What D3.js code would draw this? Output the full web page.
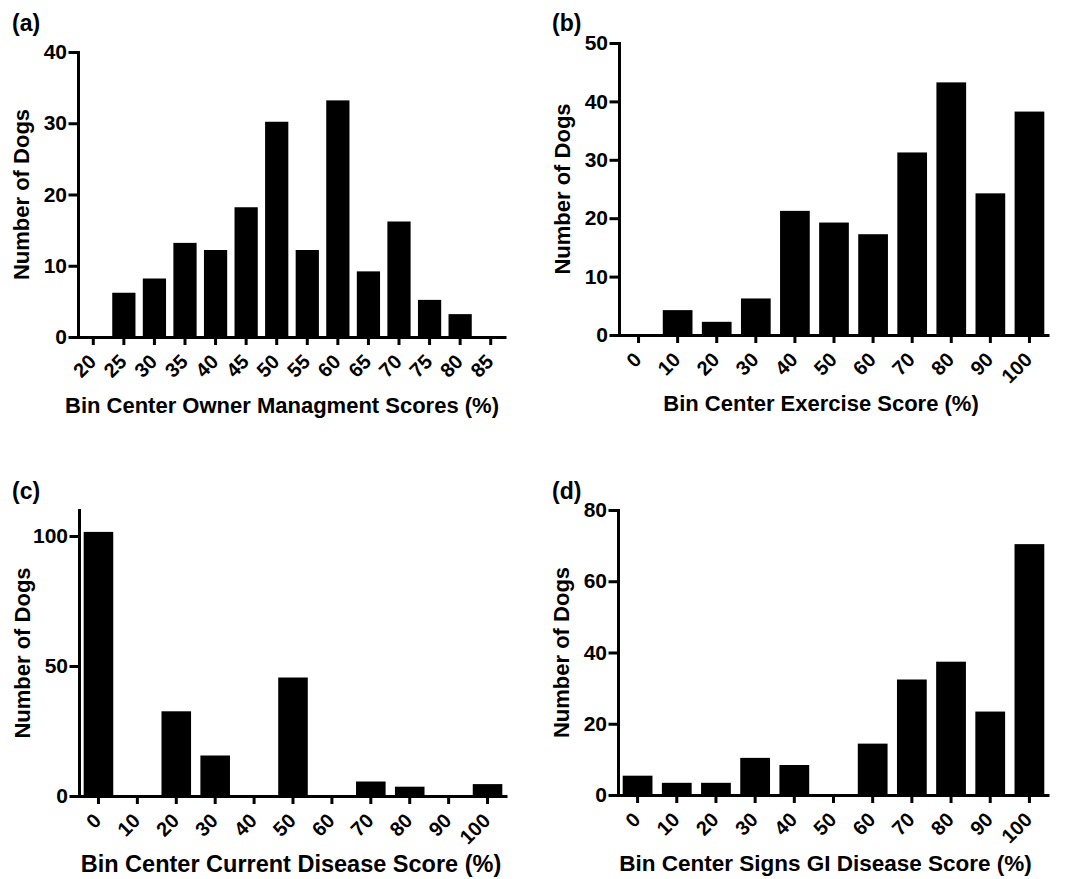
<!DOCTYPE html>
<html>
<head>
<meta charset="utf-8">
<script src="https://cdn.jsdelivr.net/npm/d3@7"></script>
<style>
  body { margin: 0; background: #fff; }
  svg text { font-family: "Liberation Sans", Arial, sans-serif; font-weight: bold; fill: #000; }
</style>
</head>
<body>
<div id="chart"></div>
<script>
// bin labels and dog counts
var mgmtBins = ["20","25","30","35","40","45","50","55","60","65","70","75","80","85"];
var mgmtCounts = [0,6,8,13,12,18,30,12,33,9,16,5,3,0];

var scoreBins = ["0","10","20","30","40","50","60","70","80","90","100"];
var exerciseCounts = [0,4,2,6,21,19,17,31,43,24,38];
var currentDiseaseCounts = [101,0,32,15,0,45,0,5,3,0,4];
var giDiseaseCounts = [5,3,3,10,8,0,14,32,37,23,70];

var mgmtTicks = [0,10,20,30,40];
var exerciseTicks = [0,10,20,30,40,50];
var currentTicks = [0,50,100];
var giTicks = [0,20,40,60,80];

var svg = d3.select("#chart").append("svg")
  .attr("width", 1073)
  .attr("height", 879);

function drawPanel(p) {
  var g = svg.append("g");

  var x = d3.scaleBand()
    .domain(p.bins)
    .range([p.left, p.right])
    .paddingInner(0.24)
    .paddingOuter(0.12);

  var y = d3.scaleLinear()
    .domain([0, p.ymax])
    .range([p.bottom, p.top]);

  var rows = p.bins.map(function(b, i){ return {bin: b, count: p.counts[i]}; });

  g.selectAll("rect.bar")
    .data(rows.filter(function(d){ return d.count > 0; }))
    .enter().append("rect")
    .attr("class", "bar")
    .attr("x", function(d){ return x(d.bin) + 1.5; })
    .attr("width", x.bandwidth() - 3)
    .attr("y", function(d){ return y(d.count); })
    .attr("height", function(d){ return p.bottom - y(d.count); })
    .attr("fill", "#000")
    .attr("stroke", "#000")
    .attr("stroke-width", 3);

  var yAxis = g.append("g")
    .attr("transform", "translate(" + p.left + ",0)")
    .call(d3.axisLeft(y).tickValues(p.ticks).tickSize(8).tickSizeOuter(0).tickPadding(3));
  yAxis.selectAll("path, line").attr("stroke", "#000").attr("stroke-width", 3).attr("stroke-linecap", "square");
  yAxis.selectAll("text").style("font-size", "21px");

  var xAxis = g.append("g")
    .attr("transform", "translate(0," + p.bottom + ")")
    .call(d3.axisBottom(x).tickSize(8).tickSizeOuter(0));
  xAxis.select(".domain").attr("stroke", "#000").attr("stroke-width", 3);
  xAxis.selectAll("line").attr("stroke", "#000").attr("stroke-width", 3);
  xAxis.selectAll("text")
    .attr("x", 0).attr("y", 0).attr("dy", 0)
    .attr("transform", "translate(4,26) rotate(-45)")
    .style("text-anchor", "end")
    .style("font-size", "20px");

  g.append("text")
    .attr("x", (p.left + p.right) / 2 + p.titleShift)
    .attr("y", p.bottom + 76)
    .attr("text-anchor", "middle")
    .style("font-size", p.titleSize + "px")
    .text(p.xTitle);

  g.append("text")
    .attr("transform", "translate(" + (p.left - 49) + "," + ((p.top + p.bottom) / 2) + ") rotate(-90)")
    .attr("text-anchor", "middle")
    .style("font-size", "22px")
    .text("Number of Dogs");

  g.append("text")
    .attr("x", p.letterX)
    .attr("y", p.letterY)
    .style("font-size", "23px")
    .text(p.letter);
}

drawPanel({letter: "(a)", letterX: 12, letterY: 31, bins: mgmtBins, counts: mgmtCounts, ticks: mgmtTicks, ymax: 40,
  left: 78, right: 506, top: 52, bottom: 337, titleShift: -10, titleSize: 22,
  xTitle: "Bin Center Owner Managment Scores (%)"});
drawPanel({letter: "(b)", letterX: 552, letterY: 31, bins: scoreBins, counts: exerciseCounts, ticks: exerciseTicks, ymax: 50,
  left: 619, right: 1049, top: 43, bottom: 335, titleShift: -13, titleSize: 22,
  xTitle: "Bin Center Exercise Score (%)"});
drawPanel({letter: "(c)", letterX: 12, letterY: 499, bins: scoreBins, counts: currentDiseaseCounts, ticks: currentTicks, ymax: 110,
  left: 79, right: 507, top: 510, bottom: 796, titleShift: -2, titleSize: 23.5,
  xTitle: "Bin Center Current Disease Score (%)"});
drawPanel({letter: "(d)", letterX: 552, letterY: 499, bins: scoreBins, counts: giDiseaseCounts, ticks: giTicks, ymax: 80,
  left: 618, right: 1049, top: 510, bottom: 795, titleShift: -8, titleSize: 22.5,
  xTitle: "Bin Center Signs GI Disease Score (%)"});
</script>
</body>
</html>
